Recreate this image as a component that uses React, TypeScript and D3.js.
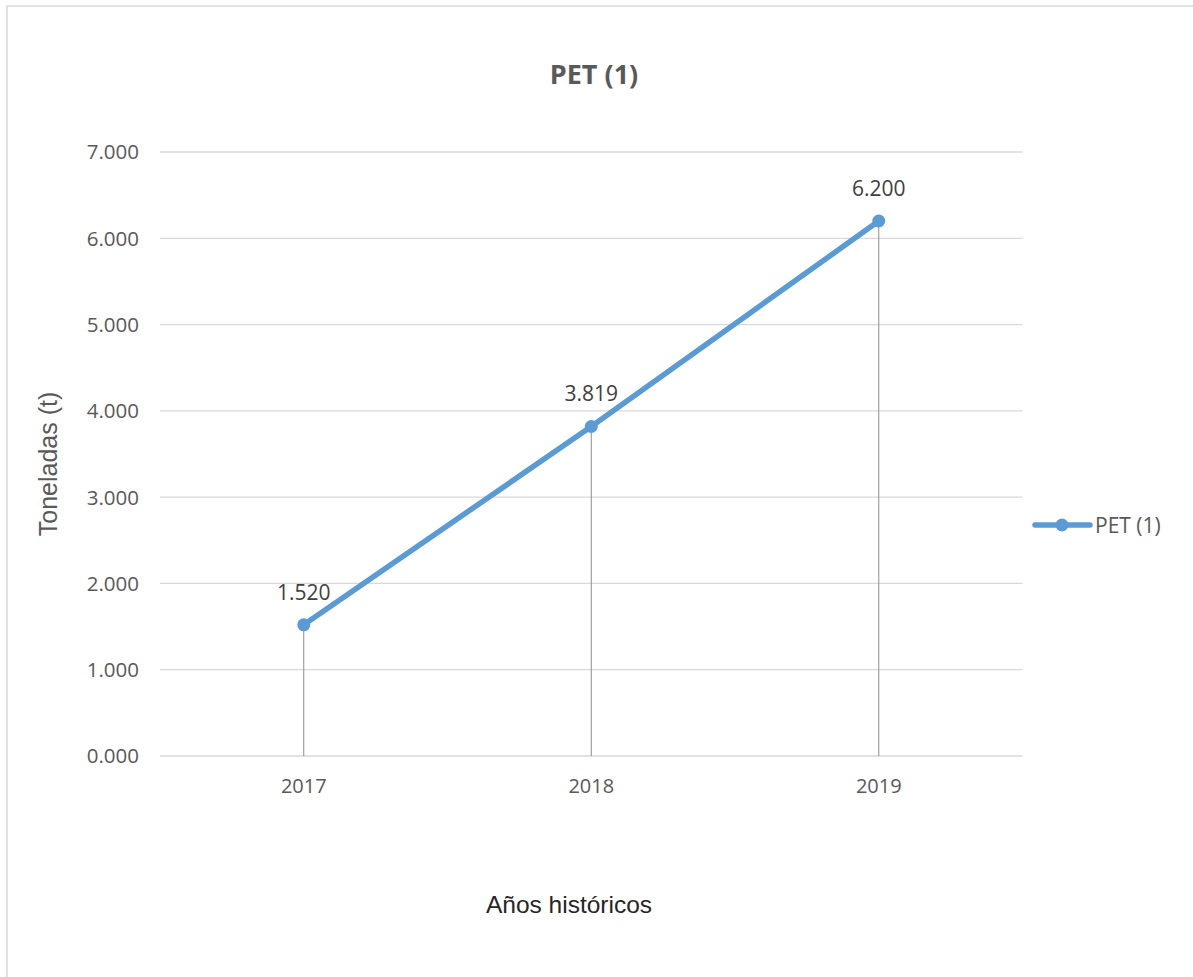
import React from "react";
import * as d3 from "d3";

const categories = ["2017", "2018", "2019"];
const values = [1520, 3819, 6200];
const valueLabels = ["1.520", "3.819", "6.200"];
const yTicks = [0, 1000, 2000, 3000, 4000, 5000, 6000, 7000];
const yTickLabels = ["0.000", "1.000", "2.000", "3.000", "4.000", "5.000", "6.000", "7.000"];
const seriesName = "PET (1)";
const chartTitle = "PET (1)";
const yTitle = "Toneladas (t)";
const xTitle = "Años históricos";

const W = 1193;
const H = 977;
const left = 160;
const right = 1022.5;
const top = 152;
const bottom = 756;
const FONT = "'Open Sans', sans-serif";
const SANS = "'Liberation Sans', Arial, sans-serif";
const BLUE = "#5B9BD5";
const TEXT = "#595959";

export default function App() {
  const x = d3.scaleBand<string>().domain(categories).range([left, right]);
  const y = d3.scaleLinear().domain([0, 7000]).range([bottom, top]);
  const cx = (c: string) => (x(c) as number) + x.bandwidth() / 2;
  const line = d3
    .line<number>()
    .x((_, i) => cx(categories[i]))
    .y((d) => y(d));

  return (
    <svg
      width={W}
      height={H}
      style={{ position: "absolute", left: 0, top: 0, background: "#fff" }}
      fontFamily={FONT}
    >
      <rect x={7} y={6} width={W + 20} height={H + 20} fill="#fff" stroke="#D9D9D9" strokeWidth={1.5} />
      <text x={594} y={84} textAnchor="middle" fontSize={27} fontWeight="bold" fill={TEXT}>
        {chartTitle}
      </text>
      {yTicks.map((t, i) => (
        <g key={t}>
          <line x1={left} x2={right} y1={y(t)} y2={y(t)} stroke="#D9D9D9" strokeWidth={1.3} />
          <text x={139} y={y(t)} dy="0.36em" textAnchor="end" fontSize={20.5} fill={TEXT}>
            {yTickLabels[i]}
          </text>
        </g>
      ))}
      {categories.map((c) => (
        <text key={c} x={cx(c)} y={793} textAnchor="middle" fontSize={20} fill={TEXT}>
          {c}
        </text>
      ))}
      {values.map((v, i) => (
        <line
          key={"drop" + i}
          x1={cx(categories[i])}
          x2={cx(categories[i])}
          y1={y(v)}
          y2={bottom}
          stroke="#8C8C8C"
          strokeWidth={1}
        />
      ))}
      <path d={line(values) || ""} fill="none" stroke={BLUE} strokeWidth={5.5} strokeLinecap="round" />
      {values.map((v, i) => (
        <circle key={"m" + i} cx={cx(categories[i])} cy={y(v)} r={6.5} fill={BLUE} />
      ))}
      {values.map((v, i) => (
        <text
          key={"l" + i}
          x={cx(categories[i])}
          y={y(v) - 25}
          textAnchor="middle"
          fontSize={21}
          fill="#404040"
        >
          {valueLabels[i]}
        </text>
      ))}
      <text
        transform={`translate(57,464) rotate(-90)`}
        textAnchor="middle"
        fontSize={25}
        fontFamily={SANS}
        fill={TEXT}
      >
        {yTitle}
      </text>
      <text x={569} y={913} textAnchor="middle" fontSize={24.5} fontFamily={SANS} fill="#262626">
        {xTitle}
      </text>
      <line x1={1035} x2={1090} y1={525} y2={525} stroke={BLUE} strokeWidth={5.5} strokeLinecap="round" />
      <circle cx={1062} cy={525} r={6.5} fill={BLUE} />
      <text x={1095} y={525} dy="0.36em" fontSize={21} fill={TEXT}>
        {seriesName}
      </text>
    </svg>
  );
}
